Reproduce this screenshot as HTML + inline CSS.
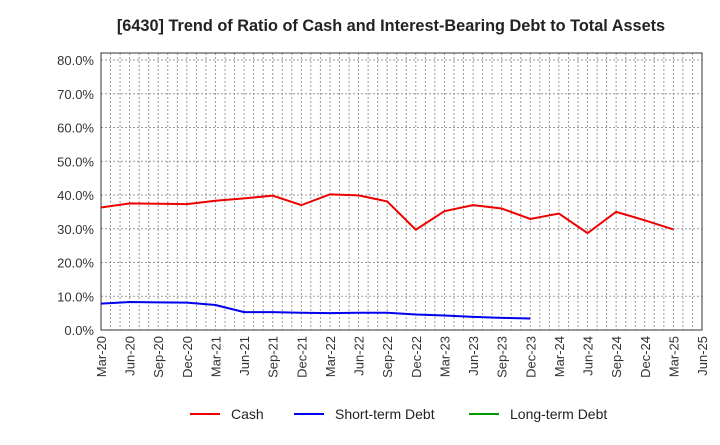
<!DOCTYPE html>
<html><head><meta charset="utf-8"><style>
body{margin:0;background:#fff;font-family:"Liberation Sans",Arial,sans-serif;}
</style></head><body>
<svg id="chart" width="720" height="440" xmlns="http://www.w3.org/2000/svg">
<text x="391" y="31" text-anchor="middle" font-size="16.3" font-weight="bold" fill="#222">[6430]  Trend of Ratio of Cash and Interest-Bearing Debt to Total Assets</text>
<g id="grid"></g><g id="axes"></g><g id="series"></g>
<g>
<line x1="190" y1="414" x2="220" y2="414" stroke="#e00" stroke-width="2"/><text x="231" y="419" font-size="14" fill="#222">Cash</text>
<line x1="294" y1="414" x2="324" y2="414" stroke="#00e" stroke-width="2"/><text x="335" y="419" font-size="14" fill="#222">Short-term Debt</text>
<line x1="469" y1="414" x2="499" y2="414" stroke="#090" stroke-width="2"/><text x="510" y="419" font-size="14" fill="#222">Long-term Debt</text>
</g>
</svg>
<script>
const xLabels=["Mar-20","Jun-20","Sep-20","Dec-20","Mar-21","Jun-21","Sep-21","Dec-21","Mar-22","Jun-22","Sep-22","Dec-22","Mar-23","Jun-23","Sep-23","Dec-23","Mar-24","Jun-24","Sep-24","Dec-24","Mar-25","Jun-25"];
const yTicks=[0,10,20,30,40,50,60,70,80];
const cash=[36.3,37.5,37.4,37.3,38.3,39.0,39.8,37.0,40.2,39.9,38.1,29.7,35.2,37.0,36.0,32.9,34.5,28.7,35.0,32.5,29.8];
const shortDebt=[7.8,8.3,8.2,8.1,7.4,5.3,5.3,5.1,5.0,5.1,5.1,4.6,4.3,3.9,3.6,3.4];
const longDebt=[];
const L=101,R=702,T=53,B=330;
const NS="http://www.w3.org/2000/svg";
function X(i){return L+i*(R-L)/(xLabels.length-1);}
function Y(v){return B-v*(B-60)/80;}
function mk(t,a,p){const e=document.createElementNS(NS,t);for(const k in a)e.setAttribute(k,a[k]);p.appendChild(e);return e;}
const grid=document.getElementById('grid'),axes=document.getElementById('axes'),ser=document.getElementById('series');
for(let m=1;m<(xLabels.length-1)*3;m++){const x=L+m*(R-L)/((xLabels.length-1)*3);
const l=mk('line',{x1:x,y1:T,x2:x,y2:B,stroke:'#999','stroke-dasharray':'2,2','stroke-width':1},grid);

}
yTicks.forEach(v=>{if(v>0){const l=mk('line',{x1:L,y1:Y(v),x2:R,y2:Y(v),stroke:'#999','stroke-dasharray':'2,2','stroke-width':1},grid);

}
const t=mk('text',{x:L-7,y:Y(v)+5,'text-anchor':'end','font-size':13,fill:'#333'},axes);t.textContent=v.toFixed(1)+'%';

});
const fr=mk('rect',{x:L,y:T,width:R-L,height:B-T,fill:'none',stroke:'#333','stroke-width':1},axes);


xLabels.forEach((s,i)=>{const t=mk('text',{x:0,y:0,'text-anchor':'end','font-size':13,fill:'#333',transform:`translate(${X(i)+5},${B+6}) rotate(-90)`},axes);t.textContent=s;

});
function line(d,c,n){if(!d.length)return;const p=mk('polyline',{points:d.map((v,i)=>X(i)+','+Y(v)).join(' '),fill:'none',stroke:c,'stroke-width':2},ser);

}
line(cash,'#e00','cash-line');
line(shortDebt,'#00e','short-term-debt-line');
line(longDebt,'#090','long-term-debt-line');
</script>
</body></html>
